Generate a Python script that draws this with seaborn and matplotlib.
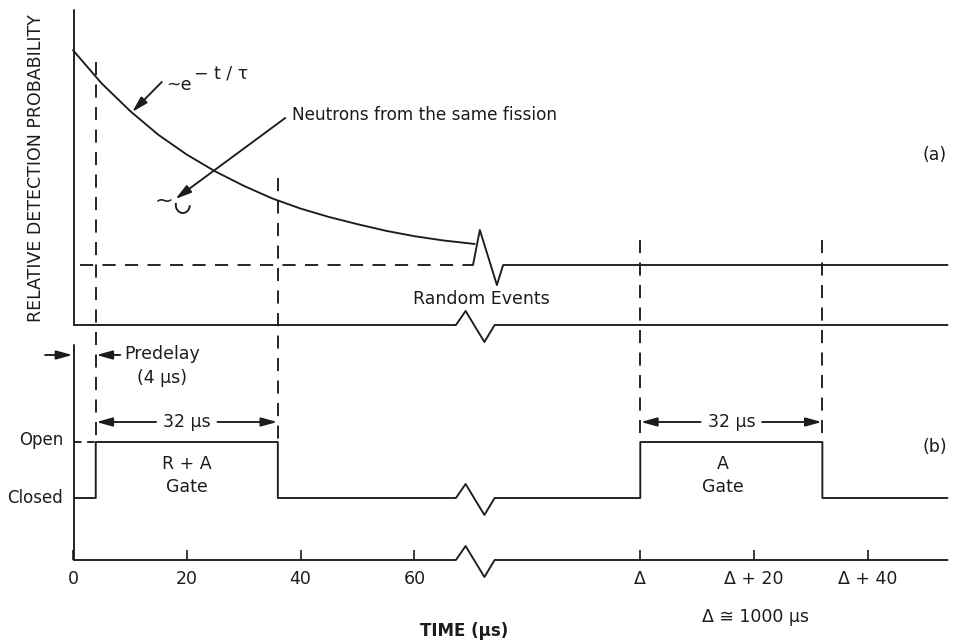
import matplotlib
matplotlib.use("Agg")
import matplotlib.pyplot as plt
import seaborn as sns
from matplotlib.patches import Arc

sns.set_theme(style="white")
plt.rcParams["font.family"] = ["DejaVu Sans"]

# (a) detection probability, in units of the random level
decay_t = [0, 5, 10, 15, 20, 25, 30, 35, 40, 45, 50, 55, 60, 65, 70.6]
decay_p = [4.58, 4.03, 3.57, 3.17, 2.84, 2.56, 2.32, 2.11, 1.94, 1.80, 1.68, 1.57, 1.48, 1.41, 1.35]
random_level = 1.0

# (b) gate timing in microseconds
predelay = 4
gate_width = 32
trace_end = 54          # trace runs to about Delta + 54 us
tick_left = [0, 20, 40, 60]
tick_right = [0, 20, 40]  # relative to Delta
tick_labels = ["0", "20", "40", "60", "Δ", "Δ + 20", "Δ + 40"]

# layout: Delta (~1000 us) is drawn after a break at this position
DPOS = 99.7
BREAK_T = 67.3
PX = 5.69                       # pixels per microsecond
ya = lambda v: 325 - 60 * v     # panel (a) value -> pixel row
yb = lambda v: 498 - 56 * v     # panel (b) gate state -> pixel row
BASE_B = 560
INK = "#1c1c1c"
LW = 1.35


def zig(t0, y0):
    return [t0, t0 + 1.7, t0 + 5.0, t0 + 6.8], [y0, y0 - 14, y0 + 17, y0]


fig = plt.figure(figsize=(9.6, 6.42), dpi=100)
ax = fig.add_axes([0, (642 - BASE_B) / 642, 1, BASE_B / 642])
ax.set_xlim(-73 / PX, (960 - 73) / PX)
ax.set_ylim(BASE_B, 0)
for s in ax.spines.values():
    s.set_visible(False)

line_kw = dict(color=INK, lw=LW, sort=False, estimator=None, ax=ax)

# ---- panel (a)
sns.lineplot(x=decay_t, y=[ya(v) for v in decay_p], **line_kw)
lvl = ya(random_level)
bx = [70.3, 71.5, 74.5, 75.6, DPOS + trace_end]
by = [lvl, lvl - 35, lvl + 20, lvl, lvl]
sns.lineplot(x=bx, y=by, **line_kw)
ax.plot([1.2, 70.3], [lvl, lvl], color=INK, lw=LW, ls=(0, (7, 5)))

zx, zy = zig(BREAK_T, ya(0))
sns.lineplot(x=[0.2] + zx + [DPOS + trace_end], y=[ya(0)] + zy + [ya(0)], **line_kw)
ax.plot([0.2, 0.2], [10, ya(0)], color=INK, lw=LW)

# ---- panel (b)
c, o = yb(0), yb(1)
gx = [0.2, predelay, predelay, predelay + gate_width, predelay + gate_width]
gy = [c, c, o, o, c]
zx, zy = zig(BREAK_T, c)
gx += zx + [DPOS, DPOS, DPOS + gate_width, DPOS + gate_width, DPOS + trace_end]
gy += zy + [c, o, o, c, c]
sns.lineplot(x=gx, y=gy, **line_kw)

zx, zy = zig(BREAK_T, BASE_B)
sns.lineplot(x=[0.2] + zx + [DPOS + trace_end], y=[BASE_B] + zy + [BASE_B],
             clip_on=False, **line_kw)
ax.plot([0.2, 0.2], [345, BASE_B], color=INK, lw=LW, clip_on=False)
ax.plot([0.2, predelay], [o, o], color=INK, lw=LW, ls=(0, (4, 3)))

# dashed gate edges
dash = dict(color=INK, lw=LW, ls=(0, (7, 5)))
ax.plot([predelay] * 2, [62, o], **dash)
ax.plot([predelay + gate_width] * 2, [178, o], **dash)
ax.plot([DPOS] * 2, [240, o], **dash)
ax.plot([DPOS + gate_width] * 2, [240, o], **dash)

# ticks on the time axis
ax.set_xticks(tick_left + [DPOS + t for t in tick_right], tick_labels)
ax.set_yticks([])
ax.tick_params(axis="x", direction="in", length=7, width=1.2, color=INK,
               pad=7, labelsize=12.5, labelcolor=INK, bottom=True)
ax.set_xlabel("TIME (µs)", fontsize=12, fontweight="bold", color=INK)
ax.xaxis.set_label_coords(464 / 960, (BASE_B - 622) / BASE_B)
ax.set_ylabel("RELATIVE DETECTION PROBABILITY", fontsize=12.5, color=INK)
ax.yaxis.set_label_coords(45 / 960, (BASE_B - 168) / BASE_B)

# ---- annotations
txt = dict(color=INK, fontsize=12.5, ha="center", va="center")
arrow = dict(arrowstyle="-|>,head_length=0.8,head_width=0.22", color=INK, lw=LW,
             shrinkA=0, shrinkB=0)

ax.text(-1.7, o - 2, "Open", ha="right", va="center", color=INK, fontsize=12)
ax.text(-1.8, c, "Closed", ha="right", va="center", color=INK, fontsize=12)

ax.annotate("", xy=(-0.1, 355), xytext=(-4.9, 355), arrowprops=arrow)
ax.annotate("", xy=(predelay + 0.1, 355), xytext=(8.3, 355), arrowprops=arrow)
ax.text(15.6, 354, "Predelay", **txt)
ax.text(15.6, 378, "(4 µs)", **txt)

for g0 in (predelay, DPOS):
    mid = g0 + gate_width / 2
    yy = 422
    ax.text(mid, yy, "32 µs", **txt)
    ax.annotate("", xy=(g0 + 0.1, yy), xytext=(mid - 5.4, yy), arrowprops=arrow)
    ax.annotate("", xy=(g0 + gate_width - 0.1, yy), xytext=(mid + 5.4, yy), arrowprops=arrow)

ax.text(predelay + gate_width / 2, 464, "R + A", **txt)
ax.text(predelay + gate_width / 2, 487, "Gate", **txt)
ax.text(DPOS + gate_width / 2 - 1.5, 464, "A", **txt)
ax.text(DPOS + gate_width / 2 - 1.5, 487, "Gate", **txt)

ax.text(71.7, 299, "Random Events", **txt)
ax.text(151.5, 155, "(a)", **txt)
ax.text(151.5, 447, "(b)", **txt)
ax.text(DPOS + 20.3, 617, "Δ ≅ 1000 µs", clip_on=False, **txt)

ax.text(16.4, 85, "~e", ha="left", va="center", color=INK, fontsize=12.5)
ax.text(21.2, 73, "− t / τ", ha="left", va="center", color=INK, fontsize=12.5)
ax.annotate("", xy=(10.4, 112), xytext=(15.6, 82), arrowprops=arrow)

ax.text(38.5, 115, "Neutrons from the same fission", ha="left", va="center",
        color=INK, fontsize=12.2)
ax.annotate("", xy=(18.0, 199), xytext=(37.3, 118), arrowprops=arrow)
ax.text(16.0, 201, "~", ha="center", va="center", color=INK, fontsize=16)
ax.add_patch(Arc((19.3, 205), 14 / PX, 16, theta1=10, theta2=240, color=INK, lw=LW))

fig.savefig("out.png", dpi=100, facecolor="white")
